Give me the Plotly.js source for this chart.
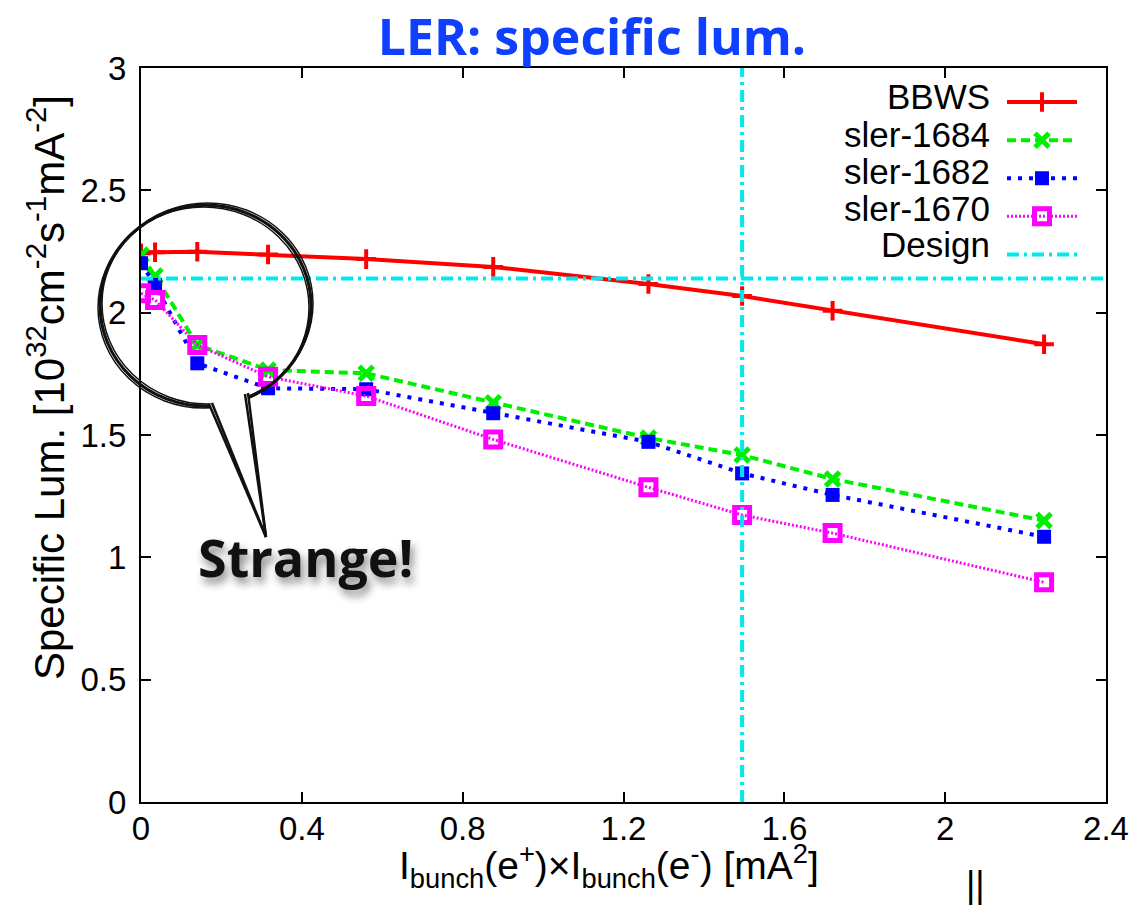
<!DOCTYPE html>
<html>
<head>
<meta charset="utf-8">
<script src="https://cdn.plot.ly/plotly-3.0.1.min.js"></script>
<style>
  html, body { margin: 0; padding: 0; background: #fff; }
  #chart { width: 1140px; height: 911px; }
</style>
</head>
<body>
<div id="chart"></div>
<script>
// bunch current product, mA^2
const xIb = [0, 0.035, 0.14, 0.316, 0.56, 0.876, 1.262, 1.495, 1.72, 2.246];

// specific luminosity, 10^32 cm^-2 s^-1 mA^-2
const lumBBWS = [2.243, 2.247, 2.249, 2.238, 2.219, 2.187, 2.117, 2.068, 2.008, 1.871];
const lum1684 = [2.236, 2.150, 1.868, 1.766, 1.752, 1.632, 1.488, 1.418, 1.320, 1.150];
const lum1682 = [2.202, 2.113, 1.793, 1.691, 1.687, 1.589, 1.472, 1.343, 1.255, 1.084];
const lum1670 = [2.079, 2.052, 1.868, 1.738, 1.659, 1.482, 1.286, 1.173, 1.099, 0.898];

const designLum = 2.14;
const designIb = 1.495;

const seriesNames = ["BBWS", "sler-1684", "sler-1682", "sler-1670", "Design"];
const xTicks = [0, 0.4, 0.8, 1.2, 1.6, 2, 2.4];
const yTicks = [0, 0.5, 1, 1.5, 2, 2.5, 3];

// plot box in pixels, used only to place the decorations
const box = { l: 141, r: 1106, t: 68, b: 802 };
const px = (v) => (v - box.l) / (box.r - box.l);
const py = (v) => (box.b - v) / (box.b - box.t);

const helv = "Liberation Sans, Arial, sans-serif";
const tickFont = { family: helv, size: 33, color: "#000" };

const traces = [
  {
    x: xIb, y: lumBBWS, name: "", type: "scatter", mode: "lines+markers",
    line: { color: "#ff0000", width: 4 },
    marker: { symbol: "cross-thin", size: 14, line: { color: "#ff0000", width: 4 } },
  },
  {
    x: xIb, y: lum1684, name: "", type: "scatter", mode: "lines+markers",
    line: { color: "#00ee00", width: 4, dash: "9px,5px" },
    marker: { symbol: "x-thin", size: 14, line: { color: "#00ee00", width: 5 } },
  },
  {
    x: xIb, y: lum1682, name: "", type: "scatter", mode: "lines+markers",
    line: { color: "#0000ff", width: 4, dash: "4px,7px" },
    marker: { symbol: "square", size: 14, color: "#0000ff" },
  },
  {
    x: xIb, y: lum1670, name: "", type: "scatter", mode: "lines+markers",
    line: { color: "#ff00ff", width: 3, dash: "2px,2px" },
    marker: { symbol: "square-open", size: 15, line: { color: "#ff00ff", width: 5 } },
  },
  {
    x: [xTicks[0], xTicks[xTicks.length - 1], null, designIb, designIb],
    y: [designLum, designLum, null, yTicks[0], yTicks[yTicks.length - 1]],
    name: "", type: "scatter", mode: "lines",
    line: { color: "#00e8f0", width: 4, dash: "12px,5px,3px,5px" },
  },
];

// legend labels sit left of the symbols, right aligned, as in gnuplot
const legendRows = [97, 134, 171, 208, 245];
const annotations = seriesNames.map((name, i) => ({
  text: name, xref: "paper", yref: "paper",
  x: px(992), y: py(legendRows[i]), xanchor: "right", yanchor: "middle",
  showarrow: false, font: { family: helv, size: 35, color: "#000" },
}));

// axis titles, placed by hand to sit where gnuplot put them
annotations.push({
  text: "I<sub>bunch</sub>(e<sup>+</sup>)×I<sub>bunch</sub>(e<sup>-</sup>) [mA<sup>2</sup>]",
  xref: "paper", yref: "paper", x: px(609), y: py(866),
  xanchor: "center", yanchor: "middle", showarrow: false,
  font: { family: helv, size: 39, color: "#000" },
});
annotations.push({
  text: "Specific Lum. [10<sup>32</sup>cm<sup>-2</sup>s<sup>-1</sup>mA<sup>-2</sup>]",
  xref: "paper", yref: "paper", x: px(46), y: py(388), textangle: -90,
  xanchor: "center", yanchor: "middle", showarrow: false,
  font: { family: helv, size: 42, color: "#000" },
});

annotations.push({
  text: "<b>Strange!</b>", xref: "paper", yref: "paper",
  x: px(305), y: py(556), xanchor: "center", yanchor: "middle", showarrow: false,
  font: { family: "Open Sans, Lato, sans-serif", size: 52, color: "#111", shadow: "3px 6px 8px #888" },
});
annotations.push({
  text: "||", xref: "paper", yref: "paper",
  x: px(975), y: py(884), xanchor: "center", yanchor: "middle", showarrow: false,
  font: { family: helv, size: 36, color: "#000" },
});

// hand drawn speech bubble
const shapes = [];
[[0, 0, 3], [2, -2, 1.5], [-2, 2, 1.5], [1, 1, 1]].forEach(([dx, dy, w]) => {
  shapes.push({
    type: "circle", xref: "paper", yref: "paper",
    x0: px(100 + dx), x1: px(311 + dx), y0: py(406 + dy), y1: py(205 + dy),
    line: { color: "#111", width: w },
  });
});
shapes.push({
  type: "path", xref: "paper", yref: "paper",
  path: `M ${px(209)},${py(404)} L ${px(266)},${py(537)} L ${px(248)},${py(393)} Z`,
  fillcolor: "#fff", line: { width: 0 },
});
[[209, 404], [212, 403], [248, 393], [245, 394]].forEach(([x0, y0]) => {
  shapes.push({
    type: "line", xref: "paper", yref: "paper",
    x0: px(x0), y0: py(y0), x1: px(266), y1: py(537),
    line: { color: "#111", width: 2.5 },
  });
});

const layout = {
  width: 1140,
  height: 911,
  margin: { l: box.l, r: 1140 - box.r, t: box.t, b: 911 - box.b },
  paper_bgcolor: "#fff",
  plot_bgcolor: "#fff",
  title: {
    text: "<b>LER: specific lum.</b>",
    x: 592 / 1140, xanchor: "center",
    y: 1 - 37 / 911, yanchor: "middle",
    font: { family: "Open Sans, Lato, sans-serif", size: 50, color: "#1040ff" },
  },
  showlegend: true,
  legend: {
    x: px(1002), xanchor: "left", y: py(78), yanchor: "top",
    bgcolor: "rgba(0,0,0,0)", font: { size: 27 },
    itemwidth: 70, tracegroupgap: 0,
  },
  xaxis: {
    range: [0, 2.4], tickvals: xTicks, ticktext: xTicks.map(String),
    ticks: "inside", ticklen: 10, tickwidth: 2, tickcolor: "#000",
    showline: true, linecolor: "#000", linewidth: 2, mirror: "ticks",
    showgrid: false, zeroline: false, tickfont: tickFont, ticklabelstandoff: -4,
  },
  yaxis: {
    range: [0, 3], tickvals: yTicks, ticktext: yTicks.map(String),
    ticks: "inside", ticklen: 10, tickwidth: 2, tickcolor: "#000",
    showline: true, linecolor: "#000", linewidth: 2, mirror: "ticks",
    showgrid: false, zeroline: false, tickfont: tickFont, ticklabelstandoff: 6,
  },
  annotations: annotations,
  shapes: shapes,
};

Plotly.newPlot("chart", traces, layout, { displayModeBar: false, staticPlot: true });
</script>
</body>
</html>
